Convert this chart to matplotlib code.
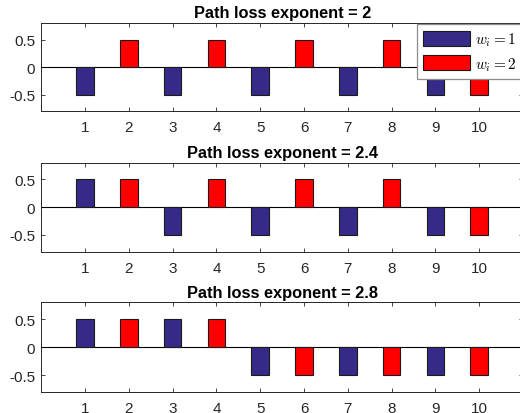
import matplotlib
matplotlib.use("Agg")
import matplotlib.pyplot as plt
import numpy as np

plt.rcParams['font.family'] = ['Liberation Sans', 'DejaVu Sans']
plt.rcParams['mathtext.fontset'] = 'cm'

nodes = np.arange(1, 11)
exponents = ["2", "2.4", "2.8"]
# sign of each node's decision for the three path loss exponents
signs_2 = [-0.5, 0.5, -0.5, 0.5, -0.5, 0.5, -0.5, 0.5, -0.5, -0.5]
signs_24 = [0.5, 0.5, -0.5, 0.5, -0.5, 0.5, -0.5, 0.5, -0.5, -0.5]
signs_28 = [0.5, 0.5, 0.5, 0.5, -0.5, -0.5, -0.5, -0.5, -0.5, -0.5]
weights = [1, 2, 1, 2, 1, 2, 1, 2, 1, 2]
legend_labels = [r"$w_i = 1$", r"$w_i = 2$"]

blue = "#352a87"
red = "#ff0000"
axis_gray = "#262626"

W, H = 520, 414
fig = plt.figure(figsize=(W / 100, H / 100), dpi=100)

# axes boxes in pixels: (top, bottom)
boxes = [(24.0, 112.3), (163.5, 252.7), (303.3, 393.3)]
left_px, right_px = 41.3, 523.0

all_signs = [signs_2, signs_24, signs_28]
for k, (top, bot) in enumerate(boxes):
    ax = fig.add_axes([left_px / W, 1 - bot / H, (right_px - left_px) / W, (bot - top) / H])
    vals = np.array(all_signs[k])
    w = np.array(weights)
    for wi, col, lab in zip([1, 2], [blue, red], legend_labels):
        m = w == wi
        ax.bar(nodes[m], vals[m], width=0.4, color=col, edgecolor="#1a1a1a",
               linewidth=0.8, label=lab, zorder=3)
    ax.axhline(0, color="black", linewidth=0.8, zorder=2)
    ax.set_xlim(0, 11)
    ax.set_ylim(-0.8, 0.8)
    ax.set_xticks(nodes)
    ax.set_yticks([-0.5, 0, 0.5])
    ax.set_yticklabels(["-0.5", "0", "0.5"])
    ax.tick_params(direction="in", top=True, right=True, length=3, width=0.6,
                   labelsize=11, colors=axis_gray, pad=4.5)
    ax.tick_params(axis="x", pad=6.5)
    for s in ax.spines.values():
        s.set_color(axis_gray)
        s.set_linewidth(0.7)
    ax.set_title("Path loss exponent = " + exponents[k], fontsize=11.8,
                 fontweight="bold", pad=4)
    if k == 0:
        leg = ax.legend(loc="upper left", bbox_to_anchor=(0.779, 0.989),
                        fontsize=11, handlelength=3.07, handleheight=1.1,
                        fancybox=False, framealpha=1, edgecolor="#8c8c8c",
                        borderpad=0.42, labelspacing=0.46, handletextpad=0.35,
                        borderaxespad=0)
        leg.get_frame().set_linewidth(0.9)
        leg.set_zorder(5)

fig.savefig("out.png", dpi=100)
